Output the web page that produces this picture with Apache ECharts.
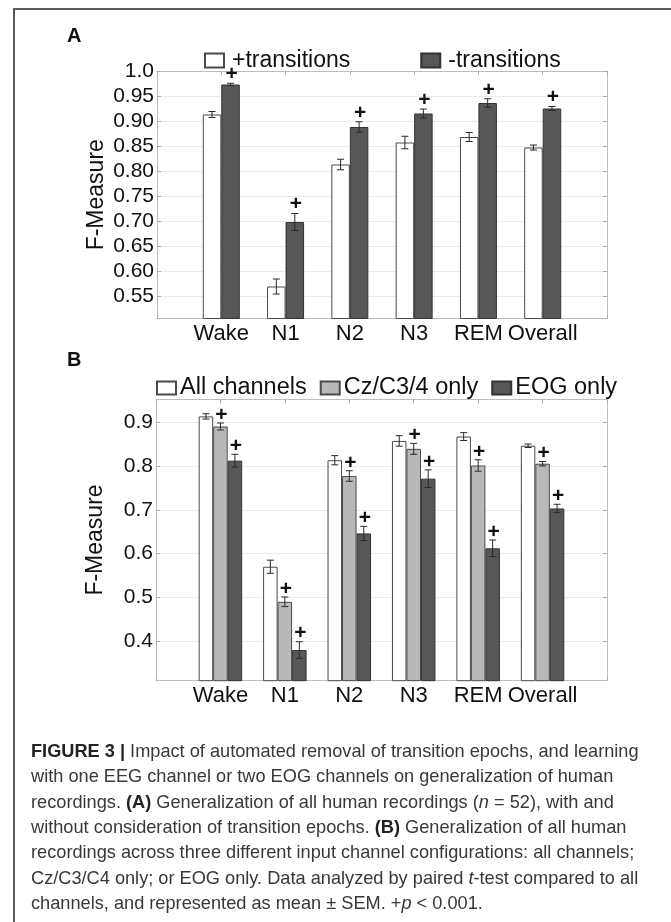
<!DOCTYPE html>
<html>
<head>
<meta charset="utf-8">
<script src="https://cdn.jsdelivr.net/npm/echarts@6/dist/echarts.min.js"></script>
<style>
html,body{margin:0;padding:0;background:#fff;}
#chart{width:671px;height:922px;}
</style>
</head>
<body>
<div id="chart"></div>
<script>
// ---------- data ----------
var categories = ['Wake', 'N1', 'N2', 'N3', 'REM', 'Overall'];

// Panel A
var plusTransMean  = [0.913, 0.569, 0.813, 0.857, 0.868, 0.847];
var plusTransSem   = [0.006, 0.015, 0.0105, 0.0125, 0.009, 0.005];
var minusTransMean = [0.973, 0.698, 0.888, 0.915, 0.936, 0.925];
var minusTransSem  = [0.0025, 0.017, 0.0105, 0.009, 0.0085, 0.004];
var minusTransSig  = [1, 1, 1, 1, 1, 1];
var yTicksA      = [0.55, 0.60, 0.65, 0.70, 0.75, 0.80, 0.85, 0.90, 0.95, 1.0];
var yTickLabelsA = ['0.55', '0.60', '0.65', '0.70', '0.75', '0.80', '0.85', '0.90', '0.95', '1.0'];

// Panel B
var allMean = [0.913, 0.570, 0.813, 0.857, 0.867, 0.846];
var allSem  = [0.006, 0.015, 0.0105, 0.012, 0.009, 0.004];
var czMean  = [0.890, 0.490, 0.777, 0.839, 0.801, 0.805];
var czSem   = [0.008, 0.011, 0.012, 0.0125, 0.013, 0.005];
var czSig   = [1, 1, 1, 1, 1, 1];
var eogMean = [0.812, 0.380, 0.646, 0.771, 0.612, 0.703];
var eogSem  = [0.0145, 0.019, 0.016, 0.02, 0.019, 0.0095];
var eogSig  = [1, 1, 1, 1, 1, 1];
var yTicksB      = [0.4, 0.5, 0.6, 0.7, 0.8, 0.9];
var yTickLabelsB = ['0.4', '0.5', '0.6', '0.7', '0.8', '0.9'];

var captionLines = [
  '{b|FIGURE 3 |} Impact of automated removal of transition epochs, and learning',
  'with one EEG channel or two EOG channels on generalization of human',
  'recordings. {b|(A)} Generalization of all human recordings ({i|n} = 52), with and',
  'without consideration of transition epochs. {b|(B)} Generalization of all human',
  'recordings across three different input channel configurations: all channels;',
  'Cz/C3/C4 only; or EOG only. Data analyzed by paired {i|t}-test compared to all',
  'channels, and represented as mean \u00b1 SEM. +{i|p} < 0.001.'
];

// ---------- helpers ----------
var FONT = 'Liberation Sans, Arial, sans-serif';
var xCats = [''].concat(categories).concat(['']);
function padBars(arr) { return ['-'].concat(arr).concat(['-']); }
function errData(mean, sem, sig) {
  return mean.map(function (m, i) { return [i + 1, m, sem[i], sig ? sig[i] : 0]; });
}
function makeErrRender(offset, plusGap) {
  return function (params, api) {
    var xi = api.value(0), m = api.value(1), s = api.value(2), sig = api.value(3);
    var top = api.coord([xi, m + s]);
    var bot = api.coord([xi, m - s]);
    var x = top[0] + offset;
    var cw = 3.5;
    var st = { stroke: '#2a2a2a', lineWidth: 1 };
    var children = [
      { type: 'line', shape: { x1: x, y1: top[1], x2: x, y2: bot[1] }, style: st },
      { type: 'line', shape: { x1: x - cw, y1: top[1], x2: x + cw, y2: top[1] }, style: st },
      { type: 'line', shape: { x1: x - cw, y1: bot[1], x2: x + cw, y2: bot[1] }, style: st }
    ];
    if (sig) {
      children.push({
        type: 'text',
        style: { text: '+', x: x + 1, y: top[1] - plusGap, align: 'center', verticalAlign: 'middle',
          font: 'bold 21px ' + FONT, fill: '#111' }
      });
    }
    return { type: 'group', children: children };
  };
}

var wA = 18.5, wB = 14.5;
var whiteStyle = { color: '#ffffff', borderColor: '#4a4a4a', borderWidth: 1 };
var lightStyle = { color: '#b9b9b9', borderColor: '#4a4a4a', borderWidth: 1 };
var darkStyle  = { color: '#575757', borderColor: '#333333', borderWidth: 1 };

function xAxisPair(gi) {
  return [
    { type: 'category', gridIndex: gi, data: xCats, boundaryGap: false, position: 'bottom',
      axisLine: { show: true, lineStyle: { color: '#bdbdbd', width: 1 } },
      axisTick: { show: true, inside: true, length: 4, lineStyle: { color: '#aaaaaa' } },
      axisLabel: { show: true, interval: 0, margin: 4, color: '#111', fontSize: 22, fontFamily: FONT },
      splitLine: { show: false } },
    { type: 'category', gridIndex: gi, data: xCats, boundaryGap: false, position: 'top',
      axisLine: { show: true, lineStyle: { color: '#bdbdbd', width: 1 } },
      axisTick: { show: true, inside: true, length: 4, lineStyle: { color: '#aaaaaa' } },
      axisLabel: { show: false }, splitLine: { show: false } }
  ];
}
function yAxisPair(gi, min, max, ticks, labels, nameGap) {
  return [
    { type: 'value', gridIndex: gi, min: min, max: max, position: 'left',
      name: 'F-Measure', nameLocation: 'middle', nameRotate: 90, nameGap: nameGap, nameMoveOverlap: false,
      nameTextStyle: { fontSize: 23, fontFamily: FONT, color: '#111' },
      axisLine: { show: true, lineStyle: { color: '#bdbdbd', width: 1 } },
      axisTick: { show: true, inside: true, length: 4, customValues: ticks, lineStyle: { color: '#aaaaaa' } },
      axisLabel: { show: true, margin: 3, customValues: ticks, color: '#111', fontSize: 21, fontFamily: FONT,
        formatter: function (v) {
          for (var i = 0; i < ticks.length; i++) { if (Math.abs(ticks[i] - v) < 1e-6) return labels[i]; }
          return '';
        } },
      splitLine: { show: true, lineStyle: { color: '#ebebeb', width: 1 } } },
    { type: 'value', gridIndex: gi, min: min, max: max, position: 'right',
      axisLine: { show: true, lineStyle: { color: '#bdbdbd', width: 1 } },
      axisTick: { show: true, inside: true, length: 4, customValues: ticks, lineStyle: { color: '#aaaaaa' } },
      axisLabel: { show: false, customValues: ticks }, splitLine: { show: false } }
  ];
}

var graphics = [
  { type: 'rect', shape: { x: 14, y: 9, width: 720, height: 960 }, style: { fill: 'none', stroke: '#5a5a5a', lineWidth: 2 }, silent: true },
  { type: 'text', x: 67, y: 36, style: { text: 'A', font: 'bold 20px ' + FONT, fill: '#111', verticalAlign: 'middle' } },
  { type: 'text', x: 67, y: 360, style: { text: 'B', font: 'bold 20px ' + FONT, fill: '#111', verticalAlign: 'middle' } }
];
var capY = [752, 777.3, 802.6, 827.9, 853.2, 878.5, 903.8];
var capFont = 18.2;
captionLines.forEach(function (t, i) {
  graphics.push({
    type: 'text', x: 31, y: capY[i],
    style: {
      text: t, fill: '#383838', fontSize: capFont, fontFamily: FONT, verticalAlign: 'middle',
      rich: {
        b: { fontWeight: 'bold', fontSize: capFont, fontFamily: FONT, fill: '#222' },
        i: { fontStyle: 'italic', fontSize: capFont, fontFamily: FONT, fill: '#383838' }
      }
    }
  });
});

var option = {
  animation: false,
  backgroundColor: '#ffffff',
  grid: [
    { left: 157, right: 64, top: 71, height: 247.5 },
    { left: 156, right: 64, top: 399.3, height: 281.4 }
  ],
  legend: [
    { left: 204, top: 49, padding: 0, orient: 'horizontal', itemWidth: 19, itemHeight: 14, itemGap: 70, icon: 'rect',
      data: ['+transitions', '-transitions'],
      textStyle: { fontSize: 23, fontFamily: FONT, color: '#111', padding: [0, 0, 0, 3] } },
    { left: 156, top: 376, padding: 0, orient: 'horizontal', itemWidth: 19, itemHeight: 13, itemGap: 13, icon: 'rect',
      data: ['All channels', 'Cz/C3/4 only', 'EOG only'],
      textStyle: { fontSize: 23.5, fontFamily: FONT, color: '#111', padding: [0, 0, 0, -1] } }
  ],
  xAxis: xAxisPair(0).concat(xAxisPair(1)),
  yAxis: yAxisPair(0, 0.505, 1.0, yTicksA, yTickLabelsA, 49).concat(yAxisPair(1, 0.31, 0.952, yTicksB, yTickLabelsB, 49)),
  series: [
    { name: '+transitions', type: 'bar', xAxisIndex: 0, yAxisIndex: 0, data: padBars(plusTransMean),
      barWidth: wA, barGap: '0%', itemStyle: whiteStyle },
    { name: '-transitions', type: 'bar', xAxisIndex: 0, yAxisIndex: 0, data: padBars(minusTransMean),
      barWidth: wA, barGap: '0%', itemStyle: darkStyle },
    { type: 'custom', xAxisIndex: 0, yAxisIndex: 0, clip: false, z: 5, encode: { x: 0, y: 1 },
      renderItem: makeErrRender(-wA / 2, 0), data: errData(plusTransMean, plusTransSem, null) },
    { type: 'custom', xAxisIndex: 0, yAxisIndex: 0, clip: false, z: 5, encode: { x: 0, y: 1 },
      renderItem: makeErrRender(wA / 2, 9), data: errData(minusTransMean, minusTransSem, minusTransSig) },

    { name: 'All channels', type: 'bar', xAxisIndex: 2, yAxisIndex: 2, data: padBars(allMean),
      barWidth: wB, barGap: '0%', itemStyle: whiteStyle },
    { name: 'Cz/C3/4 only', type: 'bar', xAxisIndex: 2, yAxisIndex: 2, data: padBars(czMean),
      barWidth: wB, barGap: '0%', itemStyle: lightStyle },
    { name: 'EOG only', type: 'bar', xAxisIndex: 2, yAxisIndex: 2, data: padBars(eogMean),
      barWidth: wB, barGap: '0%', itemStyle: darkStyle },
    { type: 'custom', xAxisIndex: 2, yAxisIndex: 2, clip: false, z: 5, encode: { x: 0, y: 1 },
      renderItem: makeErrRender(-wB, 0), data: errData(allMean, allSem, null) },
    { type: 'custom', xAxisIndex: 2, yAxisIndex: 2, clip: false, z: 5, encode: { x: 0, y: 1 },
      renderItem: makeErrRender(0, 8), data: errData(czMean, czSem, czSig) },
    { type: 'custom', xAxisIndex: 2, yAxisIndex: 2, clip: false, z: 5, encode: { x: 0, y: 1 },
      renderItem: makeErrRender(wB, 8), data: errData(eogMean, eogSem, eogSig) }
  ],
  graphic: graphics
};

var chart = echarts.init(document.getElementById('chart'), null, { renderer: 'canvas' });
chart.setOption(option);
</script>
</body>
</html>
